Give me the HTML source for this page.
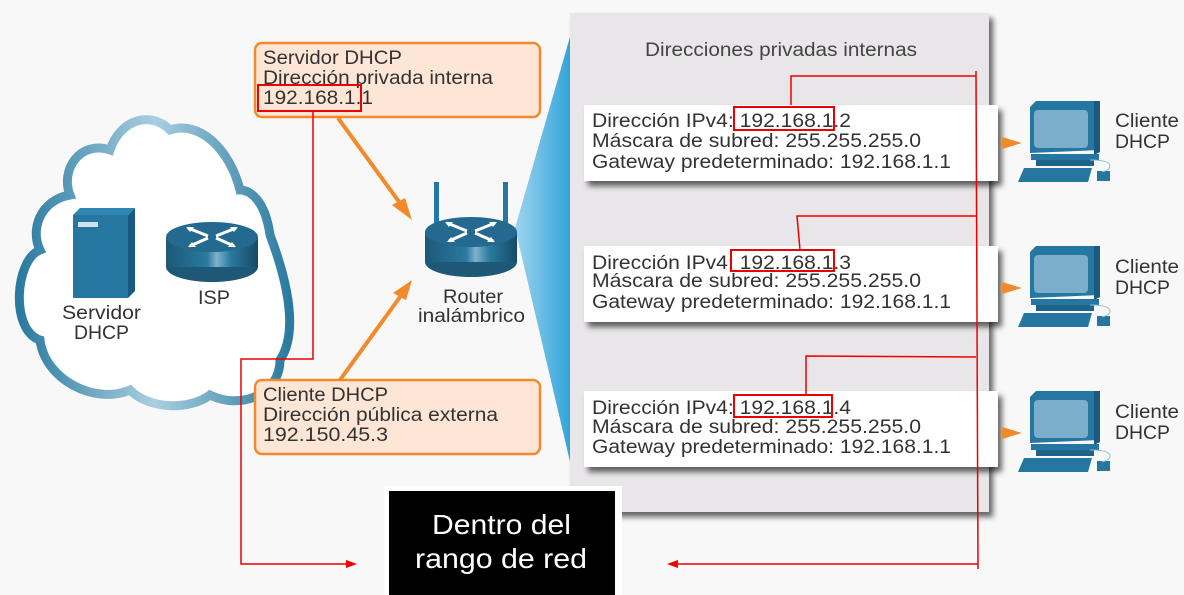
<!DOCTYPE html>
<html><head><meta charset="utf-8"><style>
html,body{margin:0;padding:0;background:#f8f8f8;}
svg{display:block;font-family:"Liberation Sans",sans-serif;}
</style></head><body>
<svg width="1184" height="595" viewBox="0 0 1184 595" xmlns="http://www.w3.org/2000/svg">
<defs>
<linearGradient id="rg" x1="0" x2="1" y1="0" y2="0">
<stop offset="0" stop-color="#1d5876"/><stop offset="0.45" stop-color="#2a7aa0"/><stop offset="0.55" stop-color="#7fb2cc"/><stop offset="0.7" stop-color="#2a7aa0"/><stop offset="1" stop-color="#164a66"/></linearGradient>
<linearGradient id="tri" x1="0" x2="1"><stop offset="0" stop-color="#9fd4ef"/><stop offset="1" stop-color="#2ea3d8"/></linearGradient>
<linearGradient id="cl" x1="0" x2="1"><stop offset="0" stop-color="#2a7aa0"/><stop offset="0.5" stop-color="#a9cfe0"/><stop offset="1" stop-color="#2a7aa0"/></linearGradient>
<filter id="sh" x="-5%" y="-10%" width="115%" height="140%"><feDropShadow dx="4" dy="5" stdDeviation="3" flood-color="#000" flood-opacity="0.6"/></filter>
<g id="pc">
<polygon points="1030,107 1036,101 1100,101 1100,150 1030,153" fill="#2577a2"/>
<polygon points="1094,101 1100,101 1100,152 1094,155" fill="#1a5a7e"/>
<rect x="1034" y="110" width="54" height="38" rx="4" fill="#7aaecb"/>
<rect x="1031" y="154" width="68" height="6" fill="#2577a2"/>
<rect x="1036" y="160" width="58" height="6" fill="#1d638a"/>
<polygon points="1024,168 1092,168 1088,182 1018,182" fill="#2577a2"/>
<rect x="1097" y="171" width="13" height="10" fill="#2577a2"/>
<path d="M1090,160 q20,0 20,6 q0,4 -8,6" fill="none" stroke="#8fc1dd" stroke-width="1"/>
<polygon points="1002,137 1022,143 1002,149" fill="#f28a2c"/>
</g>
<g id="rt">
<ellipse cx="0" cy="30" rx="46" ry="15" fill="#1d5876"/>
<rect x="-46" y="0" width="92" height="30" fill="url(#rg)"/>
<ellipse cx="0" cy="0" rx="46" ry="15" fill="#24698f"/>
<g stroke="#fff" stroke-width="3"><line x1="-24" y1="-9" x2="-4" y2="-1"/><line x1="24" y1="-9" x2="4" y2="-1"/><line x1="-22" y1="9" x2="-4" y2="1"/><line x1="22" y1="9" x2="4" y2="1"/></g>
<g fill="#fff"><polygon points="-26,-10 -18,-10 -22,-5"/><polygon points="26,-10 18,-10 22,-5"/><polygon points="-24,10 -16,10 -20,5"/><polygon points="24,10 16,10 20,5"/></g>
</g>
</defs>

<!-- cloud -->
<path d="M40,250 C15,260 10,330 40,340 C45,380 95,405 130,390 C150,410 190,410 210,395 C240,410 280,395 280,360 C300,330 285,275 270,235 C265,200 250,190 240,190 C230,150 200,120 170,130 C150,110 120,120 110,150 C80,140 60,170 70,195 C40,200 30,230 40,250 Z" fill="#fff" stroke="url(#cl)" stroke-width="9"/>
<!-- server -->
<polygon points="73,215 80,208 135,208 128,215" fill="#2f86b3"/>
<rect x="73" y="215" width="55" height="83" fill="#2577a2"/>
<polygon points="128,215 135,208 135,291 128,298" fill="#1a5a7e"/>
<rect x="78" y="222" width="20" height="5" fill="#cfe3ee"/>
<g font-size="19" fill="#333">
<text x="62" y="319" textLength="79" lengthAdjust="spacingAndGlyphs">Servidor</text>
<text x="74" y="339" textLength="55" lengthAdjust="spacingAndGlyphs">DHCP</text>
</g>
<use href="#rt" transform="translate(212,237)"/>
<text x="198" y="304" font-size="19" fill="#333" textLength="32" lengthAdjust="spacingAndGlyphs">ISP</text>

<!-- blue triangle -->
<polygon points="515,228 572,30 572,470" fill="url(#tri)"/>
<!-- wireless router -->
<rect x="434" y="182" width="5" height="42" fill="#2577a2"/>
<rect x="503" y="182" width="5" height="42" fill="#2577a2"/>
<use href="#rt" transform="translate(471,232)"/>
<g font-size="19" fill="#333">
<text x="443" y="303" textLength="60" lengthAdjust="spacingAndGlyphs">Router</text>
<text x="418" y="322" textLength="107" lengthAdjust="spacingAndGlyphs">inalámbrico</text>
</g>

<!-- orange arrows -->
<line x1="338" y1="118" x2="405" y2="210" stroke="#f28a2c" stroke-width="4"/>
<polygon points="412,220 392,205 405,198" fill="#f28a2c"/>
<line x1="340" y1="380" x2="405" y2="290" stroke="#f28a2c" stroke-width="4"/>
<polygon points="412,280 393,293 406,300" fill="#f28a2c"/>

<!-- orange boxes -->
<rect x="255" y="43" width="285" height="74" rx="7" fill="#fde6d5" stroke="#f28a2c" stroke-width="2.5"/>
<g font-size="19" fill="#333">
<text x="263" y="64" textLength="139" lengthAdjust="spacingAndGlyphs">Servidor DHCP</text>
<text x="263" y="84" textLength="230" lengthAdjust="spacingAndGlyphs">Dirección privada interna</text>
<text x="263" y="104" textLength="110" lengthAdjust="spacingAndGlyphs">192.168.1.1</text>
</g>
<rect x="255" y="380" width="285" height="74" rx="7" fill="#fde6d5" stroke="#f28a2c" stroke-width="2.5"/>
<g font-size="19" fill="#333">
<text x="263" y="401" textLength="125" lengthAdjust="spacingAndGlyphs">Cliente DHCP</text>
<text x="263" y="421" textLength="235" lengthAdjust="spacingAndGlyphs">Dirección pública externa</text>
<text x="263" y="441" textLength="125" lengthAdjust="spacingAndGlyphs">192.150.45.3</text>
</g>

<!-- panel -->
<rect x="570" y="13" width="419" height="499" fill="#e8e6e8" filter="url(#sh)"/>
<text x="645" y="56" font-size="19" fill="#444" textLength="272" lengthAdjust="spacingAndGlyphs">Direcciones privadas internas</text>
<g font-size="19" fill="#333">
<rect x="584" y="105" width="414" height="76" fill="#fff" filter="url(#sh)"/>
<text x="592" y="127" textLength="259" lengthAdjust="spacingAndGlyphs">Dirección IPv4: 192.168.1.2</text>
<text x="592" y="147" textLength="329" lengthAdjust="spacingAndGlyphs">Máscara de subred: 255.255.255.0</text>
<text x="592" y="168" textLength="359" lengthAdjust="spacingAndGlyphs">Gateway predeterminado: 192.168.1.1</text>
<rect x="584" y="246" width="414" height="76" fill="#fff" filter="url(#sh)"/>
<text x="592" y="269" textLength="259" lengthAdjust="spacingAndGlyphs">Dirección IPv4: 192.168.1.3</text>
<text x="592" y="287" textLength="329" lengthAdjust="spacingAndGlyphs">Máscara de subred: 255.255.255.0</text>
<text x="592" y="308" textLength="359" lengthAdjust="spacingAndGlyphs">Gateway predeterminado: 192.168.1.1</text>
<rect x="584" y="391" width="414" height="76" fill="#fff" filter="url(#sh)"/>
<text x="592" y="414" textLength="259" lengthAdjust="spacingAndGlyphs">Dirección IPv4: 192.168.1.4</text>
<text x="592" y="433" textLength="329" lengthAdjust="spacingAndGlyphs">Máscara de subred: 255.255.255.0</text>
<text x="592" y="453" textLength="359" lengthAdjust="spacingAndGlyphs">Gateway predeterminado: 192.168.1.1</text>
</g>

<!-- computers -->
<use href="#pc"/>
<use href="#pc" transform="translate(0,145)"/>
<use href="#pc" transform="translate(0,290)"/>
<g font-size="19" fill="#333">
<text x="1115" y="127" textLength="64" lengthAdjust="spacingAndGlyphs">Cliente</text><text x="1115" y="148" textLength="55" lengthAdjust="spacingAndGlyphs">DHCP</text>
<text x="1115" y="273" textLength="64" lengthAdjust="spacingAndGlyphs">Cliente</text><text x="1115" y="294" textLength="55" lengthAdjust="spacingAndGlyphs">DHCP</text>
<text x="1115" y="418" textLength="64" lengthAdjust="spacingAndGlyphs">Cliente</text><text x="1115" y="439" textLength="55" lengthAdjust="spacingAndGlyphs">DHCP</text>
</g>

<!-- black box -->
<rect x="384" y="486" width="238" height="112" fill="#fff"/>
<rect x="389" y="491" width="226" height="110" fill="#000"/>
<text x="432" y="534" font-size="28" fill="#fff" textLength="139" lengthAdjust="spacingAndGlyphs">Dentro del</text>
<text x="415" y="568" font-size="28" fill="#fff" textLength="172" lengthAdjust="spacingAndGlyphs">rango de red</text>

<!-- red annotations -->
<g fill="none" stroke="#e00" stroke-width="2">
<rect x="258" y="85" width="103" height="26"/>
<rect x="734" y="107" width="100" height="23"/>
<rect x="731" y="250" width="103" height="21"/>
<rect x="734" y="395" width="98" height="22"/>
<polyline points="313,111 313,359 241,359 241,564 350,564" stroke-width="1.5"/>
<polyline points="791,105 791,76 976,76" stroke-width="1.5"/>
<polyline points="800,250 797,216 976,216" stroke-width="1.5"/>
<polyline points="806,395 806,356 976,357" stroke-width="1.5"/>
<polyline points="976,71 978,569" stroke-width="1.5"/>
<polyline points="978,564 675,564" stroke-width="1.5"/>
</g>
<polygon points="357,564 346,560 346,568" fill="#e00"/>
<polygon points="667,564 678,560 678,568" fill="#e00"/>
</svg>
</body></html>
